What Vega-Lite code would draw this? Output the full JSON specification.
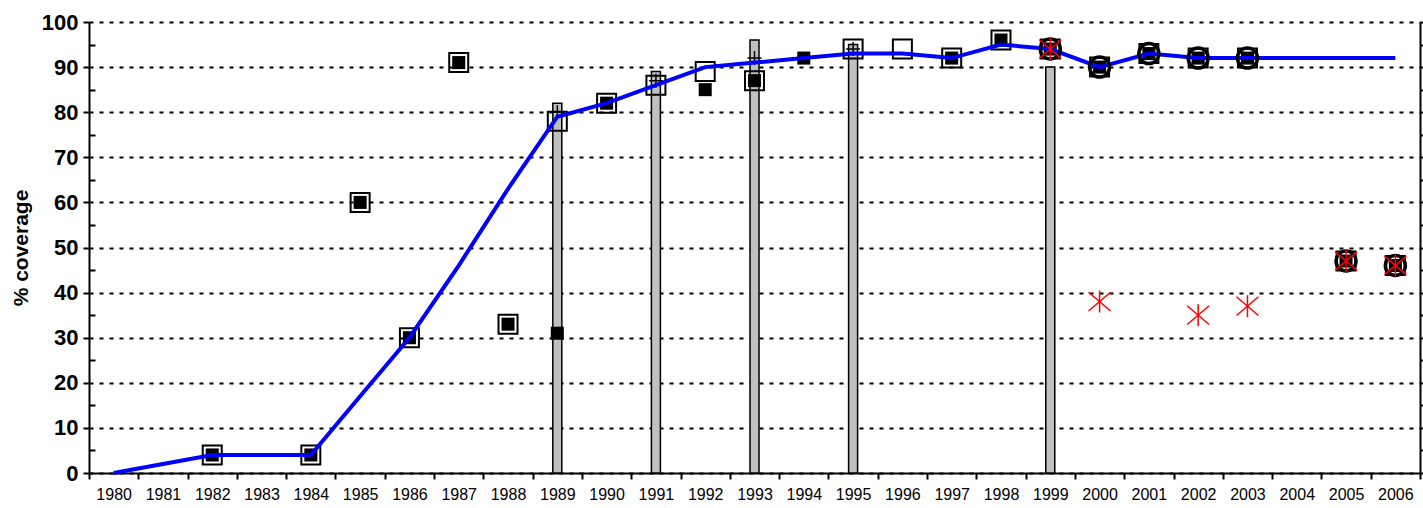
{
  "$schema": "https://vega.github.io/schema/vega-lite/v6.json",
  "autosize": "none",
  "width": 1331,
  "height": 451,
  "padding": {"left": 89, "top": 22, "right": 3, "bottom": 35},
  "background": "white",
  "config": {
    "view": {"stroke": null},
    "font": "Liberation Sans",
    "axis": {"labelFont": "Liberation Sans", "titleFont": "Liberation Sans", "labelColor": "black", "titleColor": "black", "domainColor": "black", "tickColor": "black"}
  },
  "datasets": {
    "estimate": [
      {"year": 1980, "value": 0}, {"year": 1981, "value": 2}, {"year": 1982, "value": 4}, {"year": 1983, "value": 4},
      {"year": 1984, "value": 4}, {"year": 1985, "value": 17}, {"year": 1986, "value": 30}, {"year": 1987, "value": 46},
      {"year": 1988, "value": 63}, {"year": 1989, "value": 79}, {"year": 1990, "value": 82}, {"year": 1991, "value": 86},
      {"year": 1992, "value": 90}, {"year": 1993, "value": 91}, {"year": 1994, "value": 92}, {"year": 1995, "value": 93},
      {"year": 1996, "value": 93}, {"year": 1997, "value": 92}, {"year": 1998, "value": 95}, {"year": 1999, "value": 94},
      {"year": 2000, "value": 90}, {"year": 2001, "value": 93}, {"year": 2002, "value": 92}, {"year": 2003, "value": 92},
      {"year": 2004, "value": 92}, {"year": 2005, "value": 92}, {"year": 2006, "value": 92}
    ],
    "reported": [
      {"year": 1982, "value": 4}, {"year": 1984, "value": 4}, {"year": 1985, "value": 60}, {"year": 1986, "value": 30},
      {"year": 1987, "value": 91}, {"year": 1988, "value": 33}, {"year": 1989, "value": 31}, {"year": 1990, "value": 82},
      {"year": 1992, "value": 85}, {"year": 1993, "value": 87}, {"year": 1994, "value": 92}, {"year": 1997, "value": 92},
      {"year": 1998, "value": 96}, {"year": 1999, "value": 94}, {"year": 2000, "value": 90}, {"year": 2001, "value": 93},
      {"year": 2002, "value": 92}, {"year": 2003, "value": 92}, {"year": 2005, "value": 47}, {"year": 2006, "value": 46}
    ],
    "official": [
      {"year": 1982, "value": 4}, {"year": 1984, "value": 4}, {"year": 1985, "value": 60}, {"year": 1986, "value": 30},
      {"year": 1987, "value": 91}, {"year": 1988, "value": 33}, {"year": 1989, "value": 78}, {"year": 1990, "value": 82},
      {"year": 1991, "value": 86}, {"year": 1992, "value": 89}, {"year": 1993, "value": 87}, {"year": 1995, "value": 94},
      {"year": 1996, "value": 94}, {"year": 1997, "value": 92}, {"year": 1998, "value": 96}, {"year": 1999, "value": 94},
      {"year": 2000, "value": 90}, {"year": 2001, "value": 93}, {"year": 2002, "value": 92}, {"year": 2003, "value": 92},
      {"year": 2005, "value": 47}, {"year": 2006, "value": 46}
    ],
    "surveyBars": [
      {"year": 1989, "value": 82}, {"year": 1991, "value": 89}, {"year": 1993, "value": 96},
      {"year": 1995, "value": 95}, {"year": 1999, "value": 90}
    ],
    "surveyPlus": [
      {"year": 1989, "value": 80}, {"year": 1991, "value": 87}, {"year": 1993, "value": 92}, {"year": 1995, "value": 94}
    ],
    "circles": [
      {"year": 1999, "value": 94}, {"year": 2000, "value": 90}, {"year": 2001, "value": 93}, {"year": 2002, "value": 92},
      {"year": 2003, "value": 92}, {"year": 2005, "value": 47}, {"year": 2006, "value": 46}
    ],
    "asterisks": [
      {"year": 1999, "value": 94}, {"year": 2000, "value": 38}, {"year": 2002, "value": 35},
      {"year": 2003, "value": 37}, {"year": 2005, "value": 47}, {"year": 2006, "value": 46}
    ]
  },
  "encoding": {
    "x": {
      "field": "year", "type": "ordinal",
      "scale": {"paddingInner": 0, "paddingOuter": 0},
      "axis": {
        "title": null, "labelAngle": 0, "labelFontSize": 16, "labelPadding": 7,
        "tickBand": "extent", "tickSize": 6, "tickWidth": 2, "domainWidth": 2, "grid": false
      }
    }
  },
  "resolve": {"axis": {"y": "independent"}},
  "layer": [
    {
      "data": {"name": "surveyBars"},
      "mark": {"type": "bar", "width": 9, "fill": "#C0C0C0", "stroke": "black", "strokeWidth": 1.5},
      "encoding": {
        "y": {
          "field": "value", "type": "quantitative",
          "scale": {"domain": [0, 100], "nice": false},
          "axis": {
            "orient": "left", "title": "% coverage", "titleFontSize": 21, "titleFontWeight": "bold", "titlePadding": 10,
            "values": [0, 10, 20, 30, 40, 50, 60, 70, 80, 90, 100],
            "labelFontSize": 22, "labelFontWeight": "bold", "labelPadding": 5,
            "tickSize": 6, "tickWidth": 2, "domainWidth": 2,
            "grid": true, "gridColor": "black", "gridDash": [4, 6], "gridWidth": 2, "gridOpacity": 1
          }
        }
      }
    },
    {
      "data": {"name": "surveyPlus"},
      "mark": {"type": "point", "shape": "M-1,0L1,0M0,-1L0,1", "size": 196, "stroke": "black", "strokeWidth": 1.5, "filled": false, "opacity": 1},
      "encoding": {
        "y": {
          "field": "value", "type": "quantitative",
          "axis": {
            "orient": "left", "title": null, "labels": false, "grid": false, "domain": false,
            "values": [5, 15, 25, 35, 45, 55, 65, 75, 85, 95],
            "tickSize": -6, "tickWidth": 2
          }
        }
      }
    },
    {
      "data": {"name": "official"},
      "mark": {"type": "point", "shape": "square", "size": 361, "stroke": "black", "strokeWidth": 2, "filled": false, "opacity": 1},
      "encoding": {
        "y": {
          "field": "value", "type": "quantitative",
          "axis": {
            "orient": "right", "title": null, "labels": false, "grid": false,
            "values": [0, 5, 10, 15, 20, 25, 30, 35, 40, 45, 50, 55, 60, 65, 70, 75, 80, 85, 90, 95, 100],
            "tickSize": 5, "tickWidth": 2, "domainWidth": 2
          }
        }
      }
    },
    {
      "data": {"name": "reported"},
      "mark": {"type": "point", "shape": "square", "size": 170, "fill": "black", "filled": true, "opacity": 1, "strokeWidth": 0},
      "encoding": {"y": {"field": "value", "type": "quantitative", "axis": null}}
    },
    {
      "data": {"name": "estimate"},
      "mark": {"type": "line", "color": "#0000FF", "strokeWidth": 4},
      "encoding": {"y": {"field": "value", "type": "quantitative", "axis": null}}
    },
    {
      "data": {"name": "circles"},
      "mark": {"type": "point", "shape": "circle", "size": 400, "stroke": "black", "strokeWidth": 3.5, "filled": false, "opacity": 1},
      "encoding": {"y": {"field": "value", "type": "quantitative", "axis": null}}
    },
    {
      "data": {"name": "asterisks"},
      "mark": {"type": "point", "shape": "M0,-1L0,1M-1,-0.85L1,0.85M-1,0.85L1,-0.85", "size": 484, "stroke": "#FF0000", "strokeWidth": 1.5, "filled": false, "opacity": 1},
      "encoding": {"y": {"field": "value", "type": "quantitative", "axis": null}}
    }
  ]
}
